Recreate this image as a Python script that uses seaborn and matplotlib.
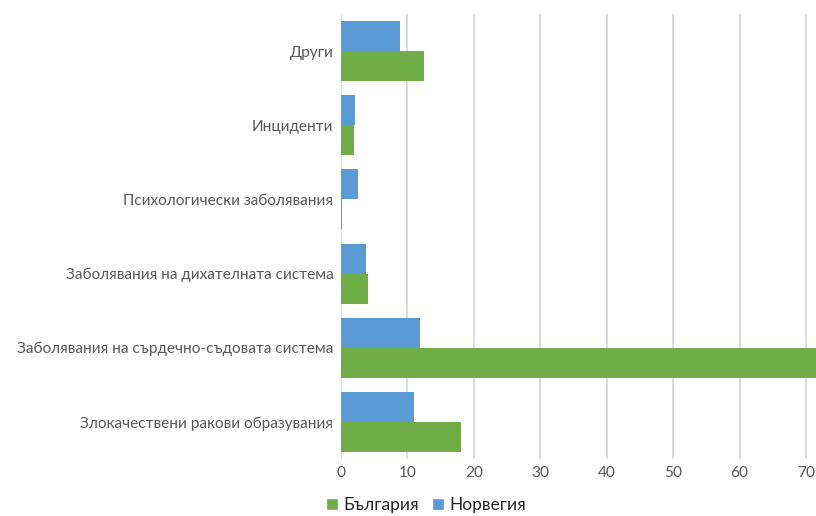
import matplotlib
matplotlib.use("Agg")
import matplotlib.pyplot as plt
from matplotlib.patches import Patch
import pandas as pd
import seaborn as sns

categories = [
    "Други",
    "Инциденти",
    "Психологически заболявания",
    "Заболявания на дихателната система",
    "Заболявания на сърдечно-съдовата система",
    "Злокачествени ракови образувания",
]
norway = [8.9, 2.1, 2.5, 3.8, 11.9, 11.0]
bulgaria = [12.5, 2.0, 0.2, 4.1, 75.0, 18.0]
x_ticks = [0, 10, 20, 30, 40, 50, 60, 70]

BLUE = "#5B9BD5"
GREEN = "#70AD47"
TEXT = "#595959"
GRID = "#D9D9D9"

df = pd.concat([
    pd.DataFrame({"category": categories, "value": norway, "country": "Норвегия"}),
    pd.DataFrame({"category": categories, "value": bulgaria, "country": "България"}),
])

sns.set_theme(style="white")
plt.rcParams["font.family"] = ["Lato", "DejaVu Sans"]

fig = plt.figure(figsize=(8.16, 5.16), dpi=100)
ax = fig.add_axes([341 / 816, 57 / 516, 1 - 341 / 816, 445 / 516])

sns.barplot(
    data=df, y="category", x="value", hue="country",
    order=categories, hue_order=["Норвегия", "България"],
    palette={"Норвегия": BLUE, "България": GREEN},
    width=0.81, saturation=1, ax=ax, legend=False, errorbar=None,
    linewidth=0, edgecolor="none",
)

ax.set_xlim(0, 71.5)
ax.set_xticks(x_ticks)
ax.set_xlabel("")
ax.set_ylabel("")
ax.grid(axis="x", color=GRID, linewidth=1.3)
ax.grid(axis="y", visible=False)
ax.set_axisbelow(True)
for s in ax.spines.values():
    s.set_visible(False)
ax.tick_params(axis="y", length=0, pad=5.5, labelsize=11.1, labelcolor=TEXT)
ax.tick_params(axis="x", length=0, pad=5, labelsize=11.1, labelcolor=TEXT)

handles = [Patch(facecolor=GREEN, label="България"), Patch(facecolor=BLUE, label="Норвегия")]
fig.legend(
    handles=handles, loc="center", bbox_to_anchor=(426 / 816, 1 - 505 / 516),
    ncol=2, frameon=False, fontsize=12.5, labelcolor="#262626",
    handlelength=0.7, handleheight=0.7, handletextpad=0.35, columnspacing=0.7,
    borderpad=0.1,
)

fig.savefig("out.png", dpi=100)
